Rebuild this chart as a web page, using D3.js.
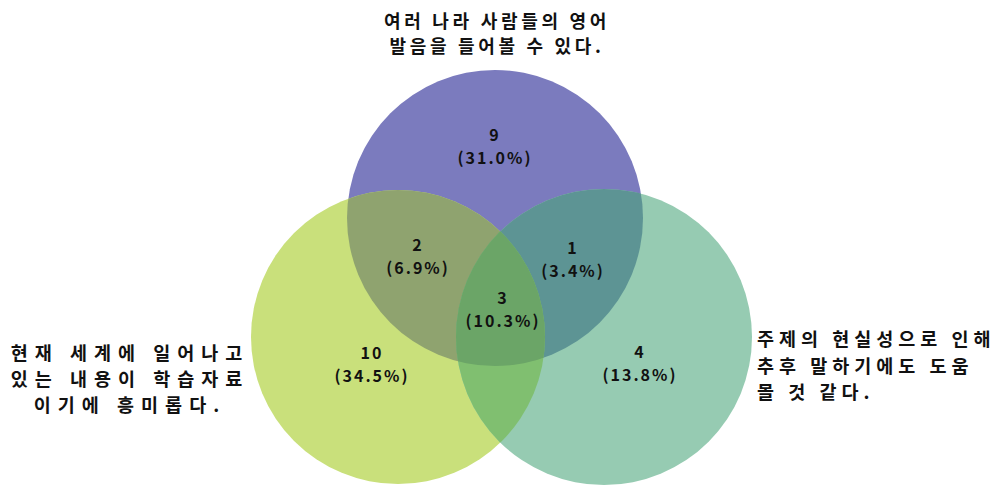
<!DOCTYPE html>
<html><head><meta charset="utf-8">
<script src="https://cdn.jsdelivr.net/npm/d3@7"></script>
<style>body{margin:0;background:#fff}svg{display:block}</style>
</head><body>
<svg id="c" width="997" height="488"></svg>
<script>
// ---- data ----
const setNames = ["top", "left", "right"];
const setLabels = [
  ["여러 나라 사람들의 영어", "발음을 들어볼 수 있다."],
  ["현재 세계에 일어나고", "있는 내용이 학습자료", "이기에 흥미롭다."],
  ["주제의 현실성으로 인해", "추후 말하기에도 도움", "몰 것 같다."]
];
const regionKeys = ["top", "top&left", "top&right", "top&left&right", "left", "right"];
const regionCounts = [9, 2, 1, 3, 10, 4];
const regionPercents = ["31.0%", "6.9%", "3.4%", "10.3%", "34.5%", "13.8%"];

// ---- layout / style ----
const circles = {
  top:   {cx: 495, cy: 218, r: 148, fill: "#7b7bbe"},
  left:  {cx: 398, cy: 337, r: 147, fill: "#c9e07b"},
  right: {cx: 604, cy: 337, r: 148, fill: "#96cbb2"}
};
const overlapFill = {
  "top&left": "#8fa36f",
  "top&right": "#5d9494",
  "left&right": "#80bf70",
  "top&left&right": "#6ba567"
};
const regionPos = {
  "top": [495, 135],
  "top&left": [418, 245],
  "top&right": [573, 248],
  "top&left&right": [503, 298],
  "left": [372, 353],
  "right": [640, 352]
};
const labelLayout = {
  top:   {x: 497, y: 22, anchor: "middle", ls: 3.7, lh: 25, fs: 18},
  left:  {x: 130, y: 354, anchor: "middle", ls: 7, lh: 26, fs: 18.5},
  right: {x: 757, y: 340, anchor: "start", ls: 5, lh: 26.5, fs: 18.5}
};

const svg = d3.select("#c");
const defs = svg.append("defs");
setNames.forEach(k => {
  const c = circles[k];
  defs.append("clipPath").attr("id", "clip-" + k)
    .append("circle").attr("cx", c.cx).attr("cy", c.cy).attr("r", c.r);
});

// base circles
svg.append("g").selectAll("circle").data(setNames).join("circle")
  .attr("cx", d => circles[d].cx).attr("cy", d => circles[d].cy)
  .attr("r", d => circles[d].r).attr("fill", d => circles[d].fill);

// pairwise overlaps
[["top","left"],["top","right"],["left","right"]].forEach(([a,b]) => {
  const c = circles[b];
  svg.append("g").attr("clip-path", `url(#clip-${a})`)
    .append("circle").attr("cx", c.cx).attr("cy", c.cy).attr("r", c.r)
    .attr("fill", overlapFill[a + "&" + b]);
});
// triple overlap
{
  const c = circles.right;
  svg.append("g").attr("clip-path", "url(#clip-top)")
    .append("g").attr("clip-path", "url(#clip-left)")
    .append("circle").attr("cx", c.cx).attr("cy", c.cy).attr("r", c.r)
    .attr("fill", overlapFill["top&left&right"]);
}

// region labels
const font = "'Noto Sans CJK KR', 'DejaVu Sans', sans-serif";
const rg = svg.append("g").attr("font-family", font).attr("font-weight", "bold")
  .attr("font-size", 16).attr("fill", "#111").attr("text-anchor", "middle");
regionKeys.forEach((k, i) => {
  const [x, y] = regionPos[k];
  const t = rg.append("text").attr("x", x).attr("y", y).attr("letter-spacing", 2);
  t.append("tspan").attr("x", x).attr("dy", "0.35em").text(regionCounts[i]);
  t.append("tspan").attr("x", x).attr("dy", 23).text("(" + regionPercents[i] + ")");
});

// set labels
const lg = svg.append("g").attr("font-family", font).attr("font-weight", "bold")
  .attr("fill", "#111");
setNames.forEach((k, i) => {
  const L = labelLayout[k];
  const t = lg.append("text").attr("text-anchor", L.anchor)
    .attr("font-size", L.fs).attr("letter-spacing", L.ls);
  setLabels[i].forEach((line, j) => {
    t.append("tspan").attr("x", L.x).attr("y", L.y + j * L.lh).attr("dy", "0.35em").text(line);
  });
});
</script>
</body></html>
